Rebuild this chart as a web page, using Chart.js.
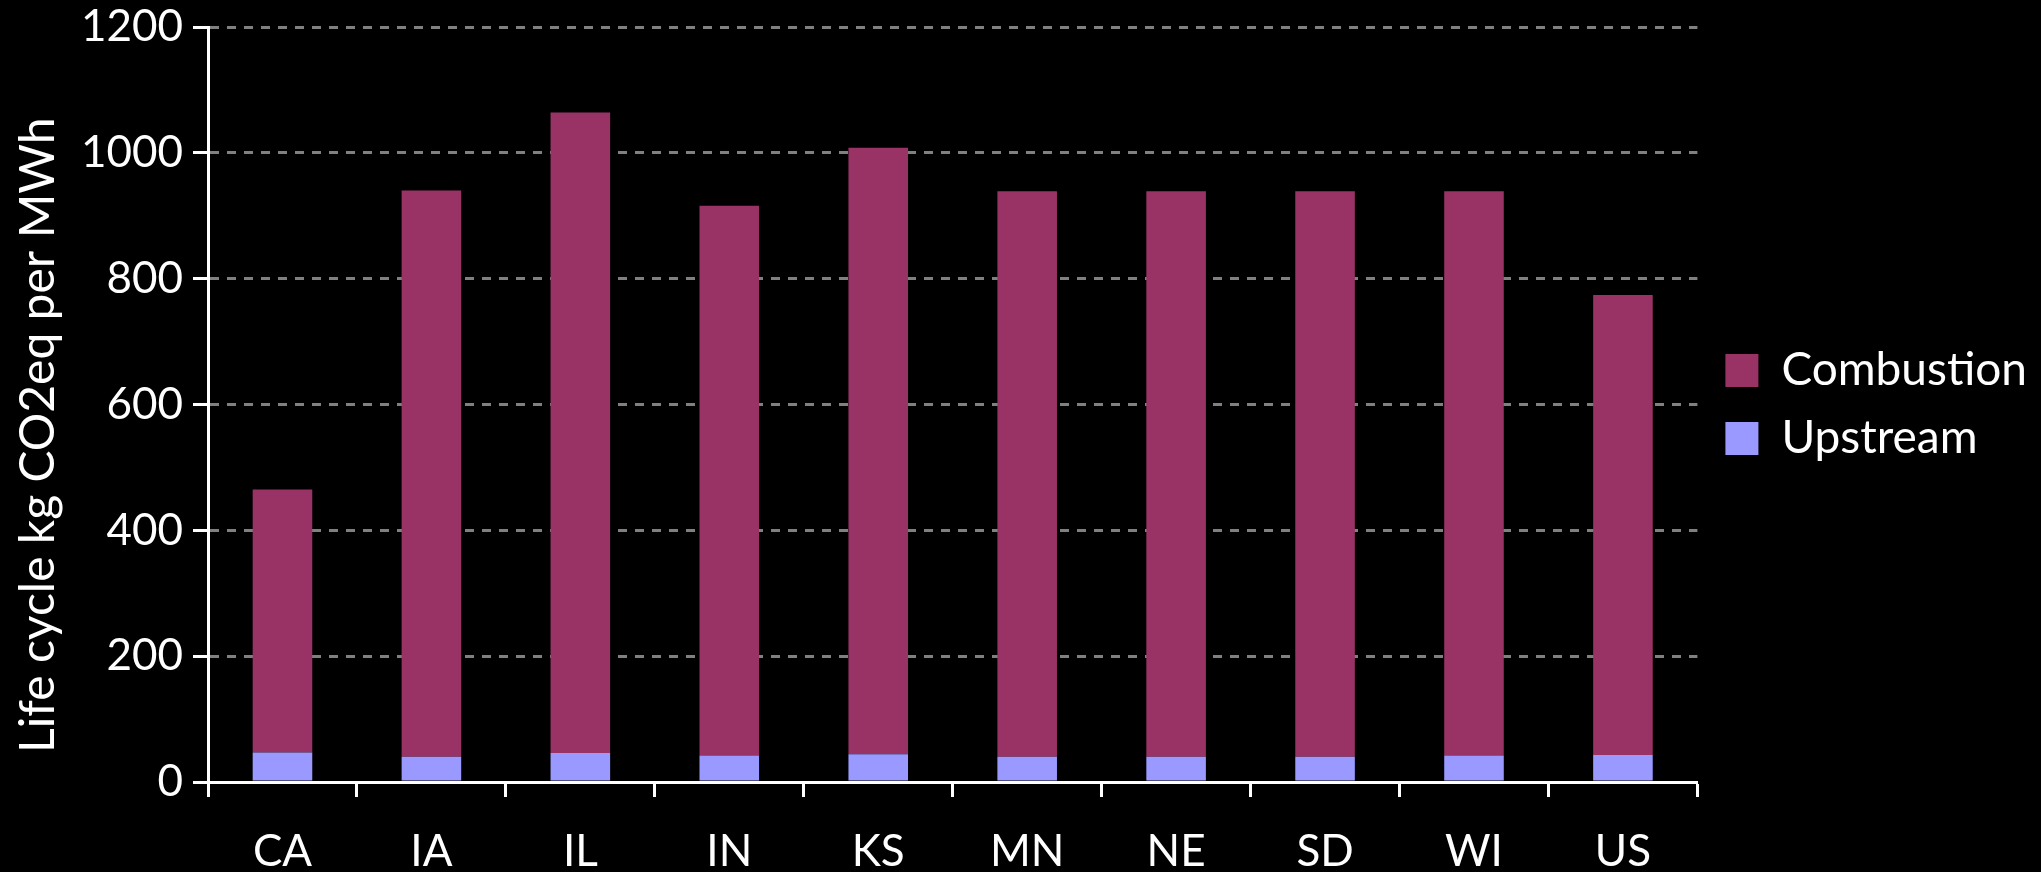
<!DOCTYPE html>
<html>
<head>
<meta charset="utf-8">
<script src="https://cdn.jsdelivr.net/npm/chart.js@4/dist/chart.umd.min.js"></script>
<style>
  html, body { margin: 0; padding: 0; background: #000; }
  #wrap { width: 2041px; height: 872px; }
</style>
</head>
<body>
<div id="wrap"><canvas id="lifeCycleChart"></canvas></div>
<script>
const regions = ["CA", "IA", "IL", "IN", "KS", "MN", "NE", "SD", "WI", "US"];

const upstream = [47, 40, 46, 42, 44, 40, 40, 40, 42, 43];

const combustion = [418, 900, 1018, 874, 964, 899, 899, 899, 897, 731];

const yTicks = [0, 200, 400, 600, 800, 1000, 1200];

const font = "Lato, 'Open Sans', sans-serif";

const canvas = document.getElementById("lifeCycleChart");

// move the legend so it sits beside the middle of the plot, not the canvas
const legendShift = {
    id: "legendShift",
    afterLayout(chart) {
        const legend = chart.legend;
        const area = chart.chartArea;
        const dy = (area.top + area.bottom) / 2 - (legend.top + legend.bottom) / 2;
        legend.top += dy;
        legend.bottom += dy;
        legend.left += 6;
        legend.right += 6;
    },
};

new Chart(canvas, {
    type: "bar",

    data: {
        labels: regions,

        datasets: [
            {
                label: "Upstream",
                data: upstream,
                backgroundColor: "#9999FF",
                borderWidth: 0,
                categoryPercentage: 1,
                barPercentage: 0.4,
            },
            {
                label: "Combustion",
                data: combustion,
                backgroundColor: "#993366",
                borderWidth: 0,
                categoryPercentage: 1,
                barPercentage: 0.4,
            },
        ],
    },

    plugins: [legendShift],

    options: {
        responsive: true,
        maintainAspectRatio: false,
        animation: false,

        layout: {
            padding: { left: 0, top: 0, right: 10, bottom: 0 },
        },

        plugins: {
            legend: {
                position: "right",
                reverse: true,
                labels: {
                    color: "#ffffff",
                    boxWidth: 33,
                    boxHeight: 33,
                    padding: 22,
                    font: { family: font, size: 46 },
                },
            },
            tooltip: { enabled: false },
        },

        scales: {
            x: {
                stacked: true,
                afterFit: (scale) => {
                    scale.height = 90;
                },
                grid: {
                    display: true,
                    offset: true,
                    drawOnChartArea: false,
                    tickLength: 15,
                    tickWidth: 3,
                    tickColor: "#ffffff",
                },
                border: { color: "#ffffff", width: 3 },
                ticks: {
                    color: "#ffffff",
                    padding: 28,
                    maxRotation: 0,
                    font: { family: font, size: 44 },
                },
            },
            y: {
                stacked: true,
                min: 0,
                max: 1200,
                afterBuildTicks: (axis) => {
                    axis.ticks = yTicks.map((v) => ({ value: v }));
                },
                afterFit: (scale) => {
                    scale.width = 208;
                    scale.paddingTop = 27;
                },
                grid: {
                    color: (ctx) => (ctx.tick && ctx.tick.value === 0 ? "rgba(0,0,0,0)" : "#808080"),
                    lineWidth: 3,
                    tickLength: 15,
                    tickWidth: 3,
                    tickColor: "#ffffff",
                    tickBorderDash: [],
                },
                border: { color: "#ffffff", width: 3, dash: [9, 8] },
                ticks: {
                    color: "#ffffff",
                    padding: 10,
                    font: { family: font, size: 44 },
                    callback: (value) => String(value),
                },
                title: {
                    display: true,
                    // trailing spaces nudge the centred title down the axis a little
                    text: "Life cycle kg CO2eq per MWh     ",
                    color: "#ffffff",
                    padding: { top: 10, bottom: 10 },
                    font: { family: font, size: 48 },
                },
            },
        },
    },
});
</script>
</body>
</html>
